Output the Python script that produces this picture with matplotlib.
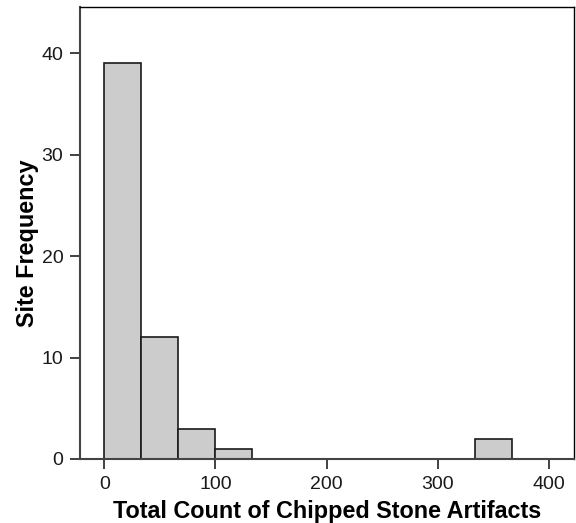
import numpy as np
import matplotlib.pyplot as plt

# ============================== DATA ==============================
# histogram bins of width 100/3 from 0 to 400
bin_edges = np.linspace(0, 400, 13)
site_counts = [39, 12, 3, 1, 0, 0, 0, 0, 0, 0, 2, 0]

xticks = [0, 100, 200, 300, 400]
yticks = [0, 10, 20, 30, 40]

xlbl = 'Total Count of Chipped Stone Artifacts'
ylbl = 'Site Frequency'

# ============================== PLOT ==============================
plt.rcParams['font.family'] = ['Liberation Sans', 'DejaVu Sans']

fig = plt.figure(figsize=(5.76, 5.23), dpi=100)
ax = fig.add_axes([0.139, 0.1224, 0.858, 0.8633])

centers = 0.5*(bin_edges[:-1] + bin_edges[1:])
ax.hist(centers, bins=bin_edges, weights=site_counts,
        facecolor='#cccccc', edgecolor='#1a1a1a', linewidth=1.2)

ax.set_xlim(-21.8, 423)
ax.set_ylim(0, 44.5)
ax.set_xticks(xticks)
ax.set_yticks(yticks)

for s in ['left', 'bottom']:
    ax.spines[s].set_color('#444444')
    ax.spines[s].set_linewidth(1.5)
for s in ['top', 'right']:
    ax.spines[s].set_color('black')
    ax.spines[s].set_linewidth(1.0)

ax.tick_params(axis='both', direction='out', length=7, width=1.3,
               color='#333333', labelsize=14, labelcolor='#1a1a1a', pad=5)

ax.set_xlabel(xlbl, fontsize=16.8, fontweight='bold', labelpad=5)
ax.set_ylabel(ylbl, fontsize=16.8, fontweight='bold', labelpad=2, y=0.478)

plt.savefig('out.png', dpi=100)
